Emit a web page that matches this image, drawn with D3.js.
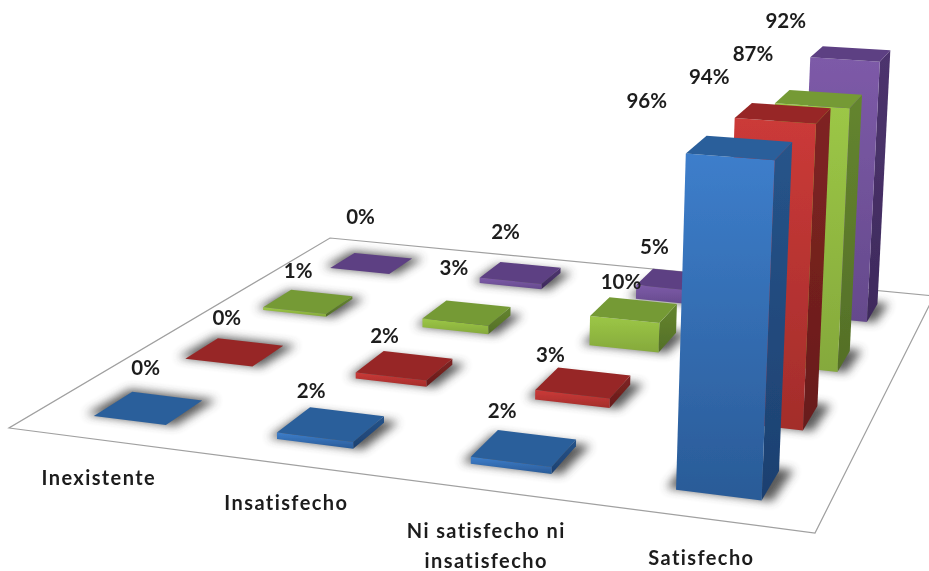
<!DOCTYPE html>
<html><head><meta charset="utf-8">
<script src="https://cdn.jsdelivr.net/npm/d3@7"></script>
<style>html,body{margin:0;background:#fff}svg{display:block}text{font-family:Lato,sans-serif;font-weight:700;fill:#1c1c1c}</style>
</head><body><svg id="c" width="929" height="571"></svg>
<script>
// ---- data
const categories = ["Inexistente","Insatisfecho","Ni satisfecho ni insatisfecho","Satisfecho"];
const seriesNames = ["Serie 1","Serie 2","Serie 3","Serie 4"];
const serie1 = [0,2,2,96];
const serie2 = [0,2,3,94];
const serie3 = [1,3,10,87];
const serie4 = [0,2,5,92];
const seriesValues = [serie1,serie2,serie3,serie4];

// ---- style
const palette = [
 {top:"#2b5f9b",f0:"#3d7ecb",f1:"#2a5b97",s0:"#26548a",s1:"#1d4070"},
 {top:"#972826",f0:"#cb3a38",f1:"#a32d2b",s0:"#7f2422",s1:"#681c1b"},
 {top:"#759a36",f0:"#9cc746",f1:"#85a93c",s0:"#64852f",s1:"#546f27"},
 {top:"#5d3f83",f0:"#7d5aa8",f1:"#654a8c",s0:"#4d346e",s1:"#3e2a5c"}
];
// ---- projection layout
const floor = {lf:[9,428],rf:[815,533],lb:[330,238],rb:[934,296]};
function homography(q){
  const [x0,y0]=q.lf,[x1,y1]=q.rf,[x2,y2]=q.rb,[x3,y3]=q.lb;
  const dx1=x1-x2,dx2=x3-x2,sx=x0-x1+x2-x3,dy1=y1-y2,dy2=y3-y2,sy=y0-y1+y2-y3;
  const d=dx1*dy2-dx2*dy1, g=(sx*dy2-dx2*sy)/d, h=(dx1*sy-sx*dy1)/d;
  const a=x1-x0+g*x1,b=x3-x0+h*x3,c=x0,dd=y1-y0+g*y1,e=y3-y0+h*y3,f=y0;
  return (u,v)=>{const w=g*u+h*v+1;return [(a*u+b*v+c)/w,(dd*u+e*v+f)/w];};
}
const H = homography(floor);
const uScale = d3.scaleBand().domain(d3.range(categories.length)).range([0,1]).paddingInner(.6).paddingOuter(.3);
const vScale = d3.scaleBand().domain(d3.range(seriesNames.length)).range([0,1]).paddingInner(.6).paddingOuter(.3);
const heightScale = d3.scaleLinear().domain([0,100]).range([0,100]);
function project(u,v,val){
  const [x,y]=H(u,v);
  const px=heightScale(val)*(2.83+0.004*(y-322));
  return [x+(x-407)*1.08e-4*px, y-px];
}
// label offsets from the bar's top centre, [category][series]
const labelNudge = [
 [[-3,-38],[-8,-32],[-10,-29],[-11,-45]],
 [[-20,-32],[-20,-28],[-13,-43],[-15,-39]],
 [[-22,-35],[-33,-26],[-13,-26],[-22,-31]],
 [[-93,-45],[-74,-34],[-66,-43],[-65,-31]]
];

const svg=d3.select("#c"), defs=svg.append("defs");
const blur=defs.append("filter").attr("id","sh").attr("x","-50%").attr("y","-80%").attr("width","200%").attr("height","260%");
blur.append("feGaussianBlur").attr("stdDeviation",5);
const soft=defs.append("filter").attr("id","soft");
soft.append("feGaussianBlur").attr("stdDeviation",.45);
const softer=defs.append("filter").attr("id","softer");
softer.append("feGaussianBlur").attr("stdDeviation",.3);
palette.forEach((p,i)=>{
  [["f",p.f0,p.f1],["s",p.s0,p.s1]].forEach(([k,a,b])=>{
    const g=defs.append("linearGradient").attr("id",k+i).attr("x1",0).attr("x2",0).attr("y1",0).attr("y2",1);
    g.append("stop").attr("offset",0).attr("stop-color",a);
    g.append("stop").attr("offset",1).attr("stop-color",b);
  });
});
const line=d3.line();
const root=svg.append("g").attr("filter","url(#soft)");
root.append("path").attr("d",line([floor.lf,floor.rf,floor.rb,floor.lb])+"Z")
  .attr("fill","#fff").attr("stroke","#a0a0a0").attr("stroke-width",1.2);

const order=[];
d3.range(seriesNames.length).reverse().forEach(s=>categories.forEach((c,ci)=>order.push({s,ci,val:seriesValues[s][ci]})));
order.forEach(d=>{
  const u0=uScale(d.ci),u1=u0+uScale.bandwidth(),v0=vScale(d.s),v1=v0+vScale.bandwidth();
  const g=root.append("g");
  g.append("path").attr("d",line([H(u0-.012,v0+.002),H(u1+.012,v0+.002),H(u1+.016,v1+.008),H(u0-.008,v1+.008)])+"Z")
   .attr("fill","#4a4a4a").attr("opacity",.9).attr("filter","url(#sh)");
  const P=(u,v,t)=>project(u,v,t?d.val:0);
  g.append("path").attr("d",line([P(u1,v0,0),P(u1,v1,0),P(u1,v1,1),P(u1,v0,1)])+"Z").attr("fill",`url(#s${d.s})`);
  g.append("path").attr("d",line([P(u0,v0,0),P(u1,v0,0),P(u1,v0,1),P(u0,v0,1)])+"Z").attr("fill",`url(#f${d.s})`);
  g.append("path").attr("d",line([P(u0,v0,1),P(u1,v0,1),P(u1,v1,1),P(u0,v1,1)])+"Z").attr("fill",palette[d.s].top);
});
const texts=svg.append("g").attr("filter","url(#softer)");
// labels
order.forEach(d=>{
  const u=uScale(d.ci)+uScale.bandwidth()/2, v=vScale(d.s)+vScale.bandwidth()/2;
  const [x,y]=project(u,v,d.val), n=labelNudge[d.ci][d.s];
  texts.append("text").attr("x",x+n[0]).attr("y",y+n[1]).attr("text-anchor","middle").attr("dominant-baseline","middle")
    .attr("font-size",20.5).text(d.val+"%");
});
// category labels
const tickLines=[["Inexistente"],["Insatisfecho"],["Ni satisfecho ni","insatisfecho"],["Satisfecho"]];
const tickShift=[[-1,40],[-3,40],[-4,42],[-2,41]];
tickLines.forEach((ls,i)=>{
  const [x,y]=H(uScale(i)+uScale.bandwidth()/2,0);
  ls.forEach((t,j)=>texts.append("text").attr("x",x+tickShift[i][0]).attr("y",y+tickShift[i][1]+j*30)
    .attr("text-anchor","middle").attr("dominant-baseline","middle").attr("font-size",20).attr("letter-spacing",1.4).text(t));
});
</script></body></html>
